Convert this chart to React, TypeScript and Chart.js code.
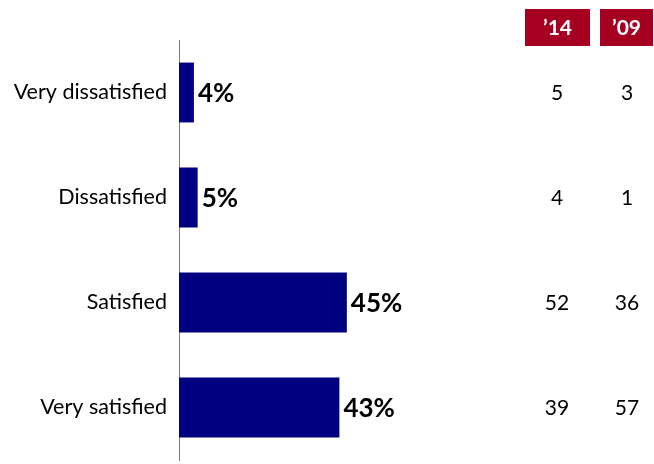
import React, { useEffect, useRef } from "react";
import { Chart, registerables } from "chart.js";

Chart.register(...registerables);

const categories = ["Very dissatisfied", "Dissatisfied", "Satisfied", "Very satisfied"];
const values2019 = [4, 5, 45, 43];
const col14Header = "\u201914";
const col09Header = "\u201909";
const values14 = [5, 4, 52, 39];
const values09 = [3, 1, 36, 57];

const FONT = "Lato, 'Open Sans', sans-serif";

const sidePlugin = {
  id: "sideTable",
  afterDatasetsDraw(chart: any) {
    const { ctx } = chart;
    const meta = chart.getDatasetMeta(0);
    ctx.save();
    // value labels
    ctx.fillStyle = "#000000";
    ctx.font = `bold 26px ${FONT}`;
    ctx.textAlign = "left";
    ctx.textBaseline = "middle";
    meta.data.forEach((bar: any, i: number) => {
      ctx.fillText(values2019[i] + "%", bar.x + 4, bar.y + 1);
    });
    // headers
    const headers = [
      { text: col14Header, x: 525, w: 65, cx: 557 },
      { text: col09Header, x: 600, w: 53, cx: 627 },
    ];
    headers.forEach((h) => {
      ctx.fillStyle = "#A50021";
      ctx.fillRect(h.x, 9, h.w, 37);
      ctx.fillStyle = "#FFFFFF";
      ctx.font = `bold 21px ${FONT}`;
      ctx.textAlign = "center";
      ctx.fillText(h.text, h.x + h.w / 2, 28);
    });
    // column values
    const yScale = chart.scales.y;
    ctx.fillStyle = "#000000";
    ctx.font = `21px ${FONT}`;
    ctx.textAlign = "center";
    categories.forEach((_, i) => {
      const y = yScale.getPixelForValue(i) + 1;
      ctx.fillText(String(values14[i]), headers[0].cx, y);
      ctx.fillText(String(values09[i]), headers[1].cx, y);
    });
    ctx.restore();
  },
};

export default function App() {
  const ref = useRef<HTMLCanvasElement>(null);
  useEffect(() => {
    document.body.style.margin = "0";
    const chart = new Chart(ref.current!, {
      type: "bar",
      data: {
        labels: categories,
        datasets: [
          {
            data: values2019,
            backgroundColor: "#000080",
            barPercentage: 0.57,
            categoryPercentage: 1,
          },
        ],
      },
      options: {
        indexAxis: "y",
        responsive: false,
        animation: false,
        layout: { padding: { top: 40, bottom: 4, left: 0, right: 102 } },
        plugins: { legend: { display: false }, tooltip: { enabled: false } },
        scales: {
          x: { display: false, min: 0, max: 100 },
          y: {
            afterFit: (s: any) => {
              s.width = 179;
              s.paddingTop = 0;
              s.paddingBottom = 0;
            },
            grid: { display: false, drawTicks: false },
            border: { display: true, color: "#808080", width: 1 },
            ticks: { color: "#000000", font: { family: FONT, size: 21.5 }, padding: 12 },
          },
        },
      },
      plugins: [sidePlugin],
    });
    return () => chart.destroy();
  }, []);
  return (
    <div style={{ position: "absolute", left: 0, top: 0, width: 654, height: 464 }}>
      <canvas ref={ref} width={654} height={464} />
    </div>
  );
}
